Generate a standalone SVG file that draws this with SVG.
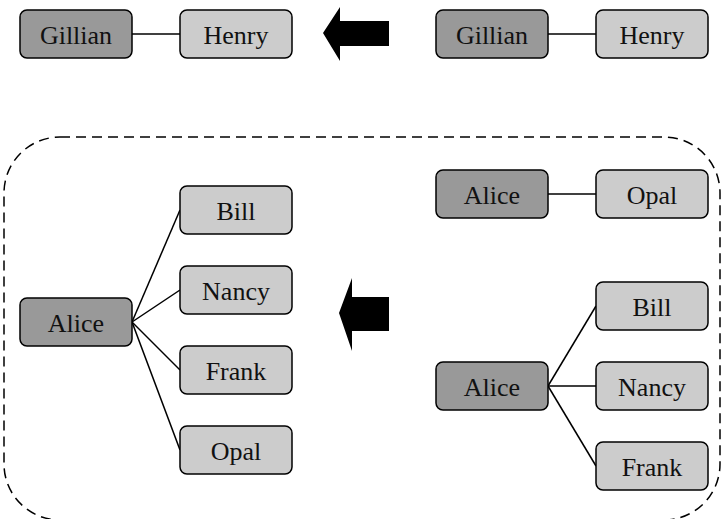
<svg xmlns="http://www.w3.org/2000/svg" width="721" height="519" viewBox="0 0 721 519">
  <style>
    .node rect { stroke: #000; stroke-width: 1.5; }
    .dark rect { fill: #999999; }
    .light rect { fill: #cccccc; }
    .node text { font-size: 26px; fill: #111; text-anchor: middle; }
    .edges line { stroke: #000; stroke-width: 1.5; }
    .frame { fill: none; stroke: #000; stroke-width: 1.5; stroke-dasharray: 10 6; }
    .arrow { fill: #000; }
  </style>

  <!-- dashed grouping frame -->
  <rect class="frame" x="4" y="137" width="716" height="383" rx="56" ry="56"/>

  <!-- direction arrows -->
  <polygon class="arrow" points="323,33 340,7 340,21 389,21 389,46 340,46 340,61"/>
  <polygon class="arrow" points="339,313 352,278 352,297 389,297 389,331 352,331 352,351"/>

  <!-- connectors -->
  <g class="edges">
    <line x1="132" y1="34" x2="180" y2="34"/>
    <line x1="548" y1="34" x2="596" y2="34"/>
    <line x1="132" y1="322" x2="180" y2="210"/>
    <line x1="132" y1="322" x2="180" y2="290"/>
    <line x1="132" y1="322" x2="180" y2="370"/>
    <line x1="132" y1="322" x2="180" y2="450"/>
    <line x1="548" y1="194" x2="596" y2="194"/>
    <line x1="548" y1="386" x2="596" y2="306"/>
    <line x1="548" y1="386" x2="596" y2="386"/>
    <line x1="548" y1="386" x2="596" y2="466"/>
  </g>

  <g font-family="'Liberation Serif', 'DejaVu Serif', serif">
    <!-- top row, result -->
    <g id="gillian-result" class="node dark"><rect x="20" y="10" width="112" height="48" rx="7"/><text x="76" y="44">Gillian</text></g>
    <g id="henry-result" class="node light"><rect x="180" y="10" width="112" height="48" rx="7"/><text x="236" y="44">Henry</text></g>

    <!-- top row, source -->
    <g id="gillian-source" class="node dark"><rect x="436" y="10" width="112" height="48" rx="7"/><text x="492" y="44">Gillian</text></g>
    <g id="henry-source" class="node light"><rect x="596" y="10" width="112" height="48" rx="7"/><text x="652" y="44">Henry</text></g>

    <!-- merged tree -->
    <g id="alice-merged" class="node dark"><rect x="20" y="298" width="112" height="48" rx="7"/><text x="76" y="332">Alice</text></g>
    <g id="bill-merged" class="node light"><rect x="180" y="186" width="112" height="48" rx="7"/><text x="236" y="220">Bill</text></g>
    <g id="nancy-merged" class="node light"><rect x="180" y="266" width="112" height="48" rx="7"/><text x="236" y="300">Nancy</text></g>
    <g id="frank-merged" class="node light"><rect x="180" y="346" width="112" height="48" rx="7"/><text x="236" y="380">Frank</text></g>
    <g id="opal-merged" class="node light"><rect x="180" y="426" width="112" height="48" rx="7"/><text x="236" y="460">Opal</text></g>

    <!-- separate trees -->
    <g id="alice-a" class="node dark"><rect x="436" y="170" width="112" height="48" rx="7"/><text x="492" y="204">Alice</text></g>
    <g id="opal" class="node light"><rect x="596" y="170" width="112" height="48" rx="7"/><text x="652" y="204">Opal</text></g>
    <g id="alice-b" class="node dark"><rect x="436" y="362" width="112" height="48" rx="7"/><text x="492" y="396">Alice</text></g>
    <g id="bill" class="node light"><rect x="596" y="282" width="112" height="48" rx="7"/><text x="652" y="316">Bill</text></g>
    <g id="nancy" class="node light"><rect x="596" y="362" width="112" height="48" rx="7"/><text x="652" y="396">Nancy</text></g>
    <g id="frank" class="node light"><rect x="596" y="442" width="112" height="48" rx="7"/><text x="652" y="476">Frank</text></g>
  </g>
</svg>
